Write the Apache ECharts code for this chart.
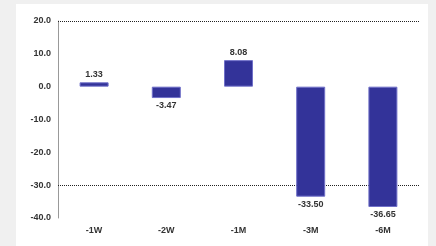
<!DOCTYPE html>
<html><head><meta charset="utf-8">
<script src="https://cdn.jsdelivr.net/npm/echarts@6/dist/echarts.min.js"></script>
<style>html,body{margin:0;padding:0;background:#f0f0f0;}#c{width:436px;height:246px;}</style>
</head><body><div id="c"></div>
<script>
var categories = ['-1W', '-2W', '-1M', '-3M', '-6M'];
var values = [1.33, -3.47, 8.08, -33.50, -36.65];
var refLines = [20, -30];

var chart = echarts.init(document.getElementById('c'));
chart.setOption({
  backgroundColor: '#f0f0f0',
  animation: false,
  graphic: [{type: 'rect', shape: {x: 16, y: 4, width: 412, height: 242}, style: {fill: '#ffffff'}, z: -10}],
  grid: {left: 58, right: 17, top: 21, bottom: 28},
  xAxis: {
    type: 'category', data: categories,
    axisLine: {show: false}, axisTick: {show: false},
    axisLabel: {fontFamily: 'Liberation Sans, Arial', fontSize: 9, color: '#333', fontWeight: 'bold', margin: 8},
    position: 'bottom'
  },
  yAxis: {
    type: 'value', min: -40, max: 20, interval: 10,
    axisLine: {show: true, lineStyle: {color: '#999', width: 1}},
    axisTick: {show: false}, splitLine: {show: false},
    axisLabel: {fontFamily: 'Liberation Sans, Arial', fontSize: 9, color: '#333', fontWeight: 'bold', margin: 7,
      formatter: function (v) { return v.toFixed(1); }}
  },
  series: [{
    type: 'bar', barWidth: 29,
    itemStyle: {color: '#333399', borderColor: '#7070c8', borderWidth: 1},
    data: values.map(function (v) {
      return {value: v, label: {position: v < 0 ? 'bottom' : 'top'}};
    }),
    label: {show: true, distance: 3, fontFamily: 'Liberation Sans, Arial', fontSize: 9, color: '#333', fontWeight: 'bold',
      formatter: function (p) { return p.value.toFixed(2); }},
    markLine: {
      silent: true, symbol: 'none', label: {show: false}, z: 1,
      lineStyle: {color: '#222', type: 'dotted', width: 1},
      data: refLines.map(function (v) { return {yAxis: v}; })
    }
  }]
});
</script></body></html>
